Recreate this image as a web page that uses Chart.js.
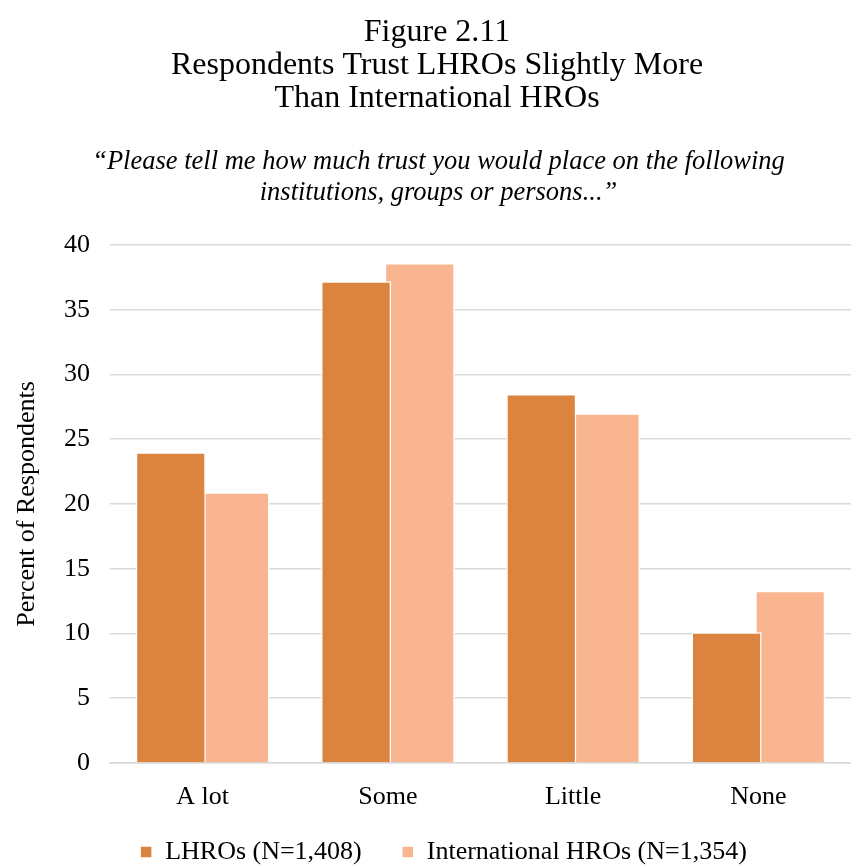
<!DOCTYPE html>
<html>
<head>
<meta charset="utf-8">
<script src="https://cdn.jsdelivr.net/npm/chart.js@4.4.1/dist/chart.umd.min.js"></script>
<style>
  html, body { margin: 0; padding: 0; background: #ffffff; }
  #wrap { width: 851px; height: 867px; position: relative; }
</style>
</head>
<body>
<div id="wrap"><canvas id="chart" width="851" height="867"></canvas></div>
<script>
// Survey responses on trust in human rights organisations
const categories = ['A lot', 'Some', 'Little', 'None'];
const lhroValues = [24.0, 37.2, 28.5, 10.1];
const intlValues = [20.9, 38.6, 27.0, 13.3];
const seriesNames = ['LHROs (N=1,408)', 'International HROs (N=1,354)'];
const titleLines = ['Figure 2.11', 'Respondents Trust LHROs Slightly More', 'Than International HROs'];
const subtitleLines = ['\u201cPlease tell me how much trust you would place on the following', 'institutions, groups or persons...\u201d'];
const yAxisTitle = 'Percent of Respondents';

const SERIF = "'Liberation Serif', 'Times New Roman', serif";
const DARK_ORANGE = '#DB843F';
const LIGHT_ORANGE = '#F8B590';

// Nudge the centred title, subtitle and legend blocks into place
const shiftBlocks = {
  id: 'shiftBlocks',
  afterLayout(chart, args, opts) {
    const titleBox = chart.titleBlock;
    const subtitleBox = chart.boxes.find(b => titleBox && b !== titleBox && b.constructor === titleBox.constructor);
    const items = [[titleBox, opts.title], [subtitleBox, opts.subtitle], [chart.legend, opts.legend]];
    for (const [box, d] of items) {
      if (!box || !d) continue;
      box.left += d.x || 0; box.right += d.x || 0;
      box.top += d.y || 0; box.bottom += d.y || 0;
    }
  }
};

new Chart(document.getElementById('chart'), {
  type: 'bar',
  data: {
    labels: categories,
    datasets: [
      { label: seriesNames[0], data: lhroValues, backgroundColor: DARK_ORANGE,
        borderColor: '#ffffff', borderWidth: 1.5, borderSkipped: 'bottom' },
      { label: seriesNames[1], data: intlValues, backgroundColor: LIGHT_ORANGE,
        borderColor: '#ffffff', borderWidth: 1.5, borderSkipped: 'bottom' }
    ]
  },
  options: {
    responsive: false,
    animation: false,
    devicePixelRatio: 1,
    categoryPercentage: 0.688,
    barPercentage: 1.1,
    layout: { padding: { top: 10, right: -6, bottom: -22, left: 0 } },
    plugins: {
      title: {
        display: true,
        text: titleLines,
        color: '#000000',
        font: { family: SERIF, size: 32, weight: 'normal', lineHeight: 1.031 },
        padding: { top: 6, bottom: 32 }
      },
      subtitle: {
        display: true,
        text: subtitleLines,
        color: '#000000',
        font: { family: SERIF, size: 26.5, style: 'italic', weight: 'normal', lineHeight: 1.17 },
        padding: { top: 0, bottom: 36 }
      },
      legend: {
        position: 'bottom',
        labels: {
          color: '#000000',
          font: { family: SERIF, size: 26 },
          boxWidth: 12,
          boxHeight: 12,
          padding: 40,
          useBorderRadius: false
        }
      },
      tooltip: { enabled: false },
      shiftBlocks: { title: { x: 8.5 }, subtitle: { x: 10 }, legend: { x: 15, y: -14 } }
    },
    scales: {
      x: {
        grid: { display: false, drawTicks: false },
        border: { display: true, color: '#D9D9D9', width: 1.5 },
        ticks: { color: '#000000', font: { family: SERIF, size: 26 }, padding: 19 },
        afterFit(scale) { scale.height = 50; }
      },
      y: {
        min: 0,
        max: 40,
        ticks: { stepSize: 5, color: '#000000', font: { family: SERIF, size: 26 }, padding: 20 },
        grid: { color: '#D9D9D9', lineWidth: 1.5, drawTicks: false },
        border: { display: false },
        title: {
          display: true,
          text: yAxisTitle,
          color: '#000000',
          font: { family: SERIF, size: 26 },
          padding: { top: 12, bottom: 0 }
        },
        afterFit(scale) { scale.width = 110; }
      }
    }
  },
  plugins: [shiftBlocks]
});
</script>
</body>
</html>
